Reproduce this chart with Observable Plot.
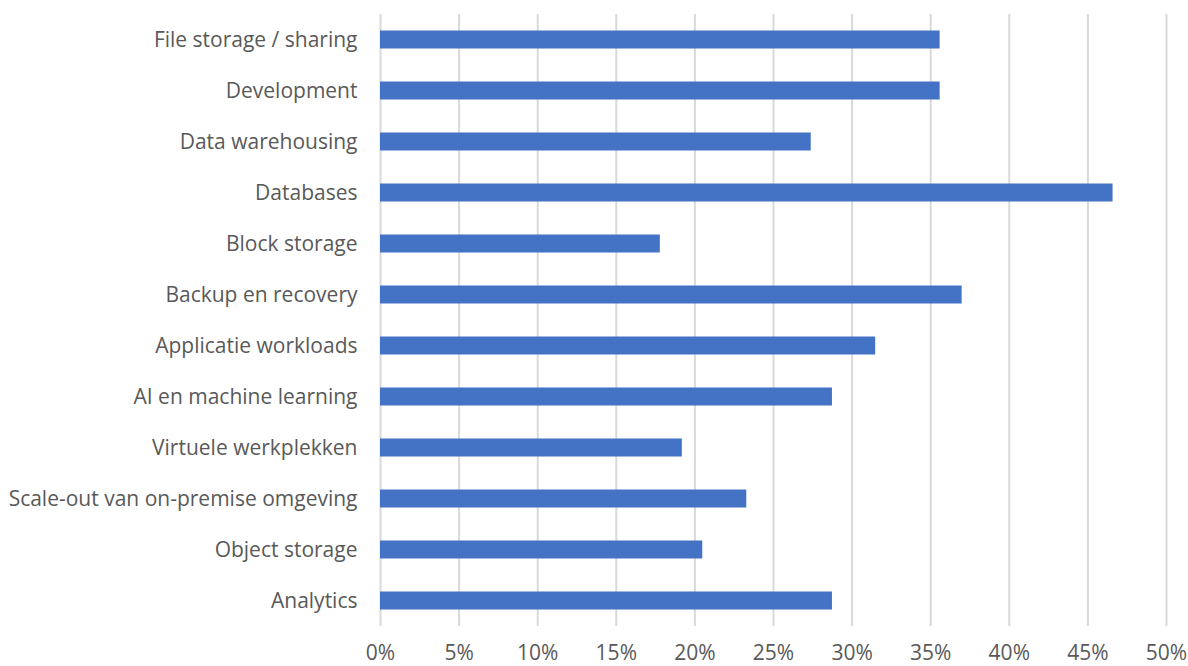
<!DOCTYPE html>
<html>
<head>
<meta charset="utf-8">
<script src="https://cdn.jsdelivr.net/npm/d3@7"></script>
<script src="https://cdn.jsdelivr.net/npm/@observablehq/plot@0.6"></script>
<style>
  html, body { margin: 0; padding: 0; background: #fff; }
  #chart svg { display: block; }
</style>
</head>
<body>
<div id="chart"></div>
<script>
const categories = [
  "File storage / sharing",
  "Development",
  "Data warehousing",
  "Databases",
  "Block storage",
  "Backup en recovery",
  "Applicatie workloads",
  "AI en machine learning",
  "Virtuele werkplekken",
  "Scale-out van on-premise omgeving",
  "Object storage",
  "Analytics"
];
const values = [0.356, 0.356, 0.274, 0.466, 0.178, 0.370, 0.315, 0.2875, 0.192, 0.233, 0.205, 0.2875];
const xTicks = [0, 0.05, 0.10, 0.15, 0.20, 0.25, 0.30, 0.35, 0.40, 0.45, 0.50];

const data = categories.map((c, i) => ({category: c, value: values[i]}));

const chart = Plot.plot({
  width: 1188,
  height: 666,
  marginLeft: 380,
  marginRight: 22,
  marginTop: 14,
  marginBottom: 40,
  style: {fontFamily: "'Open Sans', Lato, sans-serif", fontSize: "21px", color: "#595959", background: "#fff"},
  x: {domain: [0, 0.5], ticks: xTicks, tickFormat: d => Math.round(d * 100) + "%", tickSize: 0, tickPadding: 19, label: null},
  y: {domain: categories, padding: 0, tickSize: 0, tickPadding: 23, label: null},
  marks: [
    Plot.ruleX(xTicks, {stroke: "#d9d9d9", strokeWidth: 2}),
    Plot.barX(data, {y: "category", x: "value", fill: "#4472C4", insetTop: 16.5, insetBottom: 16.5})
  ]
});
document.getElementById("chart").appendChild(chart);
</script>
</body>
</html>
